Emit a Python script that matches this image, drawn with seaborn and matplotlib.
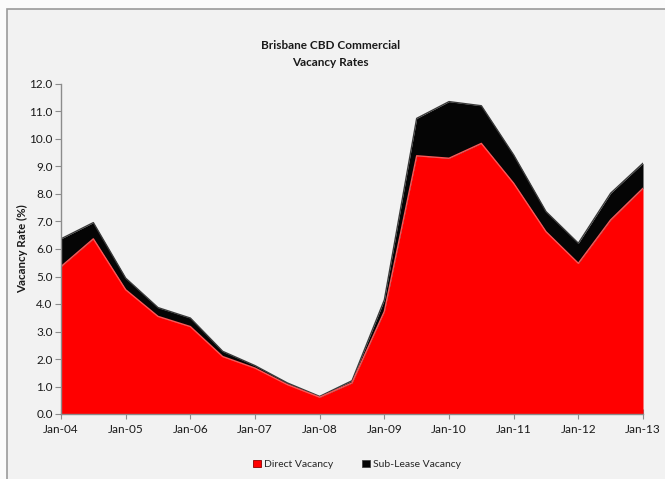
import numpy as np
import pandas as pd
import seaborn as sns
import matplotlib
matplotlib.use("Agg")
import matplotlib.pyplot as plt
from matplotlib.patches import Rectangle
from matplotlib.ticker import MultipleLocator

# Half-yearly survey periods
periods = ["Jan-04", "Jul-04", "Jan-05", "Jul-05", "Jan-06", "Jul-06", "Jan-07",
           "Jul-07", "Jan-08", "Jul-08", "Jan-09", "Jul-09", "Jan-10", "Jul-10",
           "Jan-11", "Jul-11", "Jan-12", "Jul-12", "Jan-13"]
direct_vacancy = [5.36, 6.37, 4.52, 3.55, 3.18, 2.09, 1.67, 1.07, 0.61, 1.13,
                  3.73, 9.39, 9.30, 9.84, 8.39, 6.63, 5.48, 7.06, 8.21]
sublease_vacancy = [1.01, 0.59, 0.42, 0.32, 0.31, 0.19, 0.09, 0.06, 0.03, 0.08,
                    0.42, 1.36, 2.06, 1.37, 1.03, 0.73, 0.73, 0.97, 0.91]
year_labels = ["Jan-04", "Jan-05", "Jan-06", "Jan-07", "Jan-08", "Jan-09",
               "Jan-10", "Jan-11", "Jan-12", "Jan-13"]

df = pd.DataFrame({"period": periods,
                   "direct": direct_vacancy,
                   "sublease": sublease_vacancy})
df["x"] = np.arange(len(df))
df["total"] = df["direct"] + df["sublease"]

sns.set_theme(style="white")
plt.rcParams["font.family"] = ["Lato", "DejaVu Sans"]

bg = "#f2f2f2"
fig = plt.figure(figsize=(6.65, 4.79), dpi=100, facecolor="#fbfbfb")
# chart frame, kept behind the axes
frame = Rectangle((7 / 665, -0.01), 1.0, 1 - 9 / 479 + 0.01,
                  transform=fig.transFigure, facecolor=bg,
                  edgecolor="#9a9a9a", linewidth=1.2, zorder=-5)
fig.patches.append(frame)

ax = fig.add_axes([61 / 665, 65 / 479, 582 / 665, 330 / 479])
ax.set_facecolor(bg)

ax.fill_between(df["x"], 0, df["direct"], color="#ff0000", linewidth=0, zorder=2)
ax.fill_between(df["x"], df["direct"], df["total"], color="#050505", linewidth=0, zorder=2)
sns.lineplot(data=df, x="x", y="total", ax=ax, color="#3a3a3a", linewidth=1.0, zorder=3)
sns.lineplot(data=df, x="x", y="direct", ax=ax, color="#ff5555", linewidth=1.0, zorder=3)

ax.set_xlim(0, len(df) - 1)
ax.set_ylim(0, 12)
ax.yaxis.set_major_locator(MultipleLocator(1))
ax.yaxis.set_major_formatter(matplotlib.ticker.FormatStrFormatter("%.1f"))
ax.set_xticks(np.arange(0, len(df), 2))
ax.set_xticklabels(year_labels)
ax.xaxis.set_minor_locator(MultipleLocator(0.5))

for side in ["top", "right"]:
    ax.spines[side].set_visible(False)
for side in ["left", "bottom"]:
    ax.spines[side].set_color("#8c8c8c")
    ax.spines[side].set_linewidth(1.0)
    ax.spines[side].set_zorder(4)

ax.tick_params(axis="y", which="major", direction="out", length=4, width=0.8,
               color="#8c8c8c", labelsize=8.5, labelcolor="#1a1a1a", pad=2, left=True)
ax.tick_params(axis="x", which="major", direction="inout", length=7, width=0.8,
               color="#8c8c8c", labelsize=8.5, labelcolor="#1a1a1a", pad=4, bottom=True)
ax.tick_params(axis="x", which="minor", direction="in", length=3, width=0.8,
               color="#8c8c8c", bottom=True)

ax.set_xlabel("")
ax.set_ylabel("Vacancy Rate (%)", fontsize=8.3, fontweight="bold", color="#1a1a1a", labelpad=1)

fig.text(0.497, 0.887, "Brisbane CBD Commercial\nVacancy Rates", ha="center", va="center",
         fontsize=8.5, fontweight="bold", color="#1a1a1a", linespacing=1.65)

# legend
handles = [Rectangle((0, 0), 1, 1, facecolor="#ff0000", edgecolor="#8b0000", linewidth=0.6),
           Rectangle((0, 0), 1, 1, facecolor="#050505", edgecolor="#444444", linewidth=0.6)]
fig.legend(handles, ["Direct Vacancy", "Sub-Lease Vacancy"], loc="center",
           bbox_to_anchor=(0.537, 0.031), ncol=2, frameon=False, fontsize=7.5,
           handlelength=0.7, handleheight=0.7, handletextpad=0.3, columnspacing=2.8)

fig.savefig("out.png", dpi=100, facecolor=fig.get_facecolor())
